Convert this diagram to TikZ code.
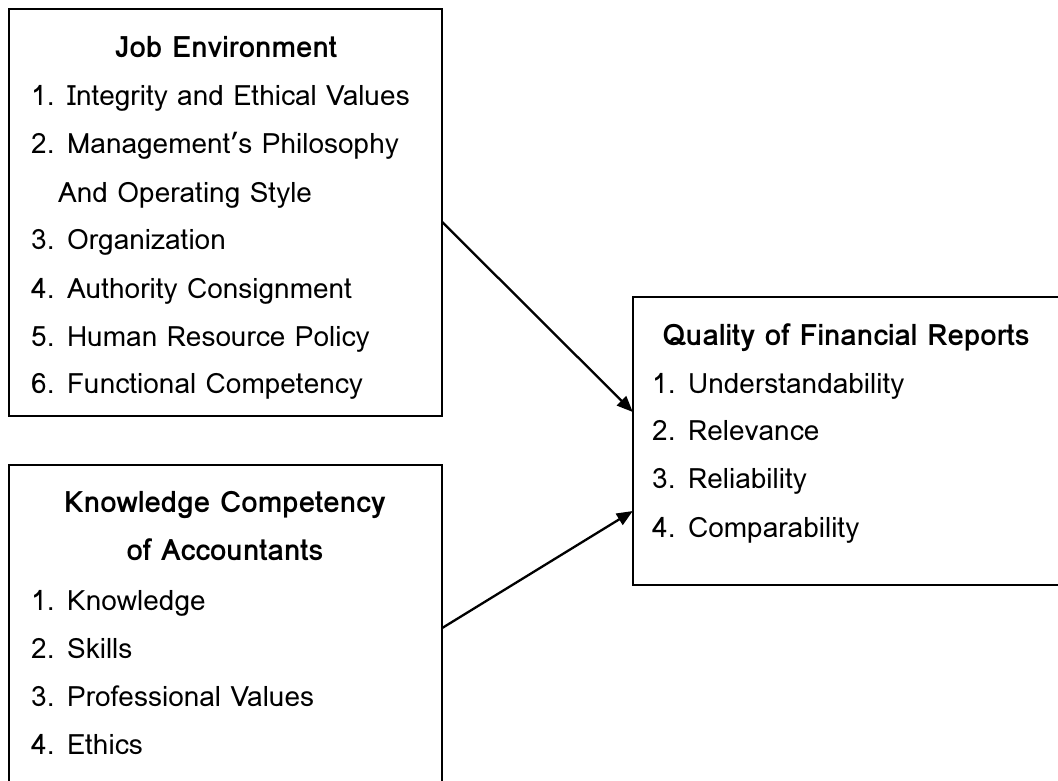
\documentclass[tikz,border=0pt]{standalone}
\usepackage{fontspec}
\setmainfont{Loma}
\usetikzlibrary{arrows.meta}
\begin{document}
\begin{tikzpicture}[x=1pt,y=-1pt,
  box/.style={draw=black,line width=2pt,fill=none},
  item/.style={anchor=base west,inner sep=0pt,font=\fontsize{28}{28}\selectfont},
  title/.style={anchor=base,inner sep=0pt,font=\fontsize{29.5}{29.5}\selectfont\bfseries},
  conn/.style={line width=2.3pt,-{Triangle[length=16pt,width=13pt]}}]
\useasboundingbox (0,0) rectangle (1058,780);
\clip (0,0) rectangle (1058,780);
% boxes
\draw[box] (9,9) rectangle (442,416);
\node[inner sep=0pt,minimum width=433pt,minimum height=407pt] (A) at (225.5,212.5) {};
\draw[box] (9,465) rectangle (442,820);
\node[inner sep=0pt,minimum width=433pt,minimum height=355pt] (B) at (225.5,642.5) {};
\draw[box] (633,297) rectangle (1100,585);
\node[inner sep=0pt,minimum width=467pt,minimum height=288pt] (C) at (866.5,441) {};
% Job Environment
\node[title] (a0) at (226,57) {Job Environment};
\node[item] (a1) at (31,105) {1. Integrity and Ethical Values};
\node[item] (a2) at (31,153) {2. Management’s Philosophy};
\node[item] (a2b) at (58,202) {And Operating Style};
\node[item] (a3) at (31,249) {3. Organization};
\node[item] (a4) at (31,298) {4. Authority Consignment};
\node[item] (a5) at (31,346) {5. Human Resource Policy};
\node[item] (a6) at (31,393) {6. Functional Competency};
% Knowledge
\node[title] (b0) at (225,512) {Knowledge Competency};
\node[title] (b0b) at (225,560) {of Accountants};
\node[item] (b1) at (31,610) {1. Knowledge};
\node[item] (b2) at (31,658) {2. Skills};
\node[item] (b3) at (31,706) {3. Professional Values};
\node[item] (b4) at (31,754) {4. Ethics};
% Quality
\node[title] (c0) at (846,345) {Quality of Financial Reports};
\node[item] (c1) at (652,393) {1. Understandability};
\node[item] (c2) at (652,440) {2. Relevance};
\node[item] (c3) at (652,488) {3. Reliability};
\node[item] (c4) at (652,537) {4. Comparability};
% connectors
\coordinate (s1) at (A.east |- 0,222);
\coordinate (e1) at (C.west |- 0,412);
\coordinate (s2) at (B.east |- 0,628);
\coordinate (e2) at (C.west |- 0,511);
\draw[conn] (s1) -- (e1);
\draw[conn] (s2) -- (e2);
\end{tikzpicture}
\end{document}
